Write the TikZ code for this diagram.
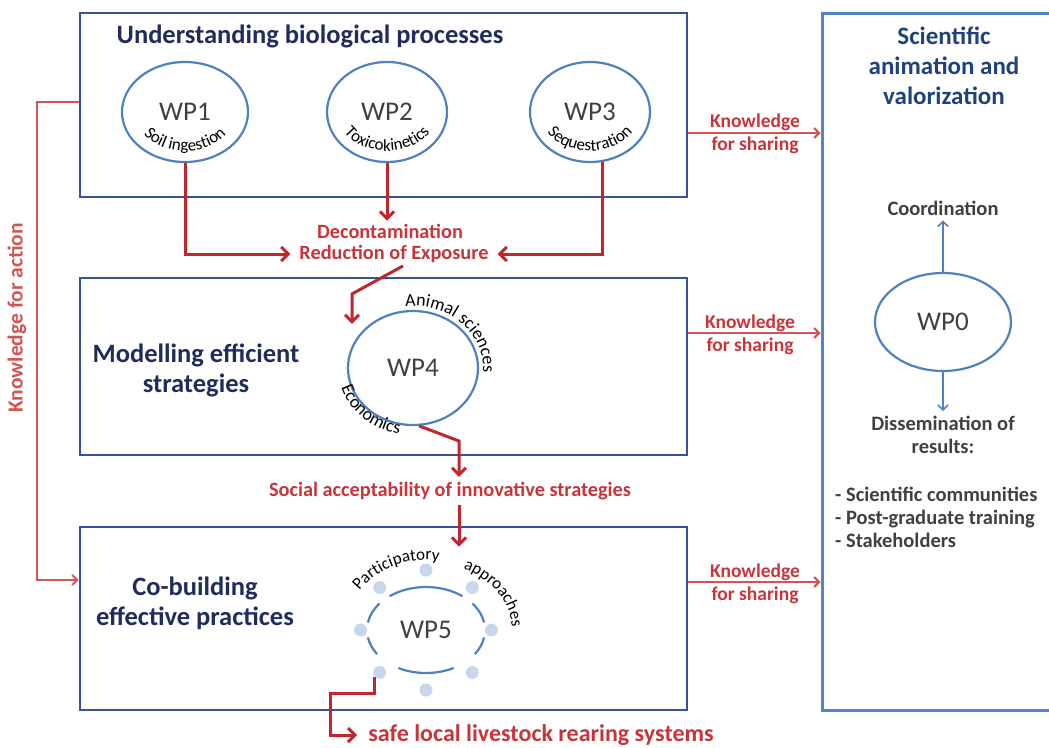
\documentclass[tikz,border=0pt]{standalone}
\usepackage{fontspec}
\setmainfont{Carlito}
\usepackage{tikz}
\usetikzlibrary{arrows.meta,positioning,shapes.geometric,decorations.text}

\definecolor{boxblue}{RGB}{52,84,150}
\definecolor{valblue}{RGB}{84,132,200}
\definecolor{ringblue}{RGB}{79,129,189}
\definecolor{navy}{RGB}{31,44,92}
\definecolor{valnavy}{RGB}{31,66,122}
\definecolor{flowred}{RGB}{192,38,44}
\definecolor{labelred}{RGB}{200,52,58}
\definecolor{lightred}{RGB}{212,84,84}
\definecolor{textgray}{RGB}{64,64,64}
\definecolor{dotblue}{RGB}{200,215,236}

\newcommand{\fs}[1]{\fontsize{#1}{#1}\selectfont}

\begin{document}
\begin{tikzpicture}[
    x=1pt, y=1pt,
    panel/.style={
      rectangle,
      draw=boxblue,
      line width=2.8pt,
      inner sep=0pt
    },
    wp/.style={
      ellipse,
      draw=ringblue,
      line width=2.2pt,
      inner sep=0pt,
      text=textgray,
      font=\fs{27}
    },
    ring/.style={draw=ringblue, line width=2.2pt},
    dot/.style={circle, fill=dotblue, inner sep=0pt, minimum size=13pt},
    title/.style={font=\bfseries\fontsize{26.5}{30}\selectfont, text=navy, align=center, inner sep=0pt},
    redlabel/.style={font=\bfseries\fs{20.3}, text=labelred, inner sep=5pt},
    sharelabel/.style={font=\bfseries\fontsize{19.5}{23}\selectfont, text=labelred, align=center, inner sep=0pt},
    grey/.style={font=\bfseries\fontsize{20.5}{23}\selectfont, text=textgray, inner sep=0pt},
    flow/.style={draw=flowred, line width=3pt, -{Straight Barb[length=7pt,width=14pt]}},
    share/.style={draw=lightred, line width=2pt, -{Straight Barb[length=5pt,width=10pt]}},
    blueline/.style={draw=ringblue, line width=1.5pt, -{Straight Barb[length=5pt,width=10pt]}}
  ]

    \useasboundingbox (0,0) rectangle (1049,-747);

    % Panels
    \node[panel, minimum width=607pt, minimum height=184pt] (bio) at (383.5,-105) {};
    \node[panel, minimum width=607pt, minimum height=177pt] (model) at (383.5,-366.5) {};
    \node[panel, minimum width=607pt, minimum height=183pt] (cobuild) at (383.5,-618.5) {};
    \node[rectangle, draw=valblue, line width=3pt, minimum width=243pt, minimum height=697pt] (valbox) at (943.5,-361.5) {};

    % Panel titles
    \node[title] (biotitle) at (310,-36) {Understanding biological processes};
    \node[title] (modeltitle) at (196,-370) {Modelling efficient\\strategies};
    \node[title] (cobuildtitle) at (195,-603) {Co-building\\effective practices};
    \node[title, text=valnavy, font=\bfseries\fontsize{25}{30}\selectfont] (valtitle) at (944,-66)
      {Scientific\\animation and\\valorization};

    % Work packages
    \node[wp, minimum width=126pt, minimum height=100pt] (wp1) at (185,-112) {WP1};
    \node[wp, minimum width=120pt, minimum height=100pt] (wp2) at (387,-112) {WP2};
    \node[wp, minimum width=120pt, minimum height=100pt] (wp3) at (590,-112) {WP3};
    \node[wp, minimum width=130pt, minimum height=114pt] (wp4) at (413,-368) {WP4};
    \node[wp, draw=none, minimum width=118pt, minimum height=86pt] (wp5) at (426,-630) {WP5};
    \node[wp, minimum width=136pt, minimum height=98pt] (wp0) at (943,-322) {WP0};

    % WP5 ring with participants
    \foreach \s/\e in {10/38, 52/128, 142/170, 190/214, 242/298, 326/350}
      \draw[ring] (wp5.center) ++(\s:59pt and 43pt)
        arc[start angle=\s, end angle=\e, x radius=59pt, y radius=43pt];
    \foreach \a in {0,45,90,135,180,225,270,315}
      \path (wp5.center) ++(\a:65.5pt and 60pt) node[dot] (dot\a) {};

    % Curved captions
    \path[decorate, decoration={text along path, text align=center, text={|\fs{17}|Soil ingestion}}]
      (wp1.center) ++(200:50pt and 39pt) arc[start angle=200, end angle=340, x radius=50pt, y radius=39pt];
    \path[decorate, decoration={text along path, text align=center, text={|\fs{17}|Toxicokinetics}}]
      (wp2.center) ++(200:50pt and 39pt) arc[start angle=200, end angle=340, x radius=50pt, y radius=39pt];
    \path[decorate, decoration={text along path, text align=center, text={|\fs{17}|Sequestration}}]
      (wp3.center) ++(200:50pt and 39pt) arc[start angle=200, end angle=340, x radius=50pt, y radius=39pt];
    \path[decorate, decoration={text along path, text align=center, text={|\fs{18}|Animal sciences}}]
      (wp4.center) ++(115:70pt and 62pt) arc[start angle=115, end angle=-25, x radius=70pt, y radius=62pt];
    \path[decorate, decoration={text along path, text align=center, text={|\fs{18}|Economics}}]
      (wp4.center) ++(185:75pt and 67pt) arc[start angle=185, end angle=270, x radius=75pt, y radius=67pt];
    \path[decorate, decoration={text along path, text align=center, text={|\fs{17}|Participatory}}]
      (wp5.center) ++(160:80pt and 70pt) arc[start angle=160, end angle=68, x radius=80pt, y radius=70pt];
    \path[decorate, decoration={text along path, text align=center, text={|\fs{17}|approaches}}]
      (wp5.center) ++(68:86pt and 68pt) arc[start angle=68, end angle=-2, x radius=86pt, y radius=68pt];

    % Outputs between panels
    \node[redlabel, inner ysep=3pt] (decon) at (390,-231) {Decontamination};
    \node[redlabel, inner xsep=9pt, inner ysep=3pt] (reduc) at (394,-254) {Reduction of Exposure};
    \node[redlabel] (social) at (450,-491) {Social acceptability of innovative strategies};
    \node[redlabel, font=\bfseries\fs{24}, inner xsep=11pt] (safe) at (541,-735) {safe local livestock rearing systems};

    \draw[flow] (wp1.south) |- (reduc.west);
    \draw[flow] (wp2.south) -- (wp2.south |- decon.north);
    \draw[flow] (wp3.-76) |- (reduc.east);
    \draw[flow] ([xshift=9pt]reduc.south) -- ++(-51,-28) -- ++(0,-30);
    \draw[flow] (wp4.-84) -- (459,-441) -- (social.north -| 459,0);
    \draw[flow] (social.south -| 459,0) -- (cobuild.north -| 459,0) -- ++(0,-21);
    \draw[flow] (dot225.south west) |- (330,-693) |- (safe.west);

    % Knowledge for action
    \node[rotate=90, font=\bfseries\fs{21.5}, text=lightred, inner sep=0pt] (action) at (17,-318) {Knowledge for action};
    \draw[share] (bio.west |- 0,-102) -| (37,-340) |- (cobuild.west |- 0,-580);

    % Knowledge for sharing
    \node[sharelabel] (ks1) at (755,-134) {Knowledge\\for sharing};
    \node[sharelabel] (ks2) at (750,-335) {Knowledge\\for sharing};
    \node[sharelabel] (ks3) at (755,-584) {Knowledge\\for sharing};
    \draw[share] (bio.east |- 0,-133) -- (valbox.west |- 0,-133);
    \draw[share] (model.east |- 0,-333) -- (valbox.west |- 0,-333);
    \draw[share] (cobuild.east |- 0,-582) -- (valbox.west |- 0,-582);

    % Coordination and dissemination
    \node[grey, inner sep=5pt] (coord) at (943,-208) {Coordination};
    \node[grey, align=center, inner sep=5pt] (dissem) at (943,-435) {Dissemination of\\results:};
    \node[grey, align=left, anchor=west] (audience) at (835,-517)
      {- Scientific communities\\- Post-graduate training\\- Stakeholders};
    \draw[blueline] (wp0.north) -- (coord.south);
    \draw[blueline] (wp0.south) -- (dissem.north);

  \end{tikzpicture}
\end{document}
